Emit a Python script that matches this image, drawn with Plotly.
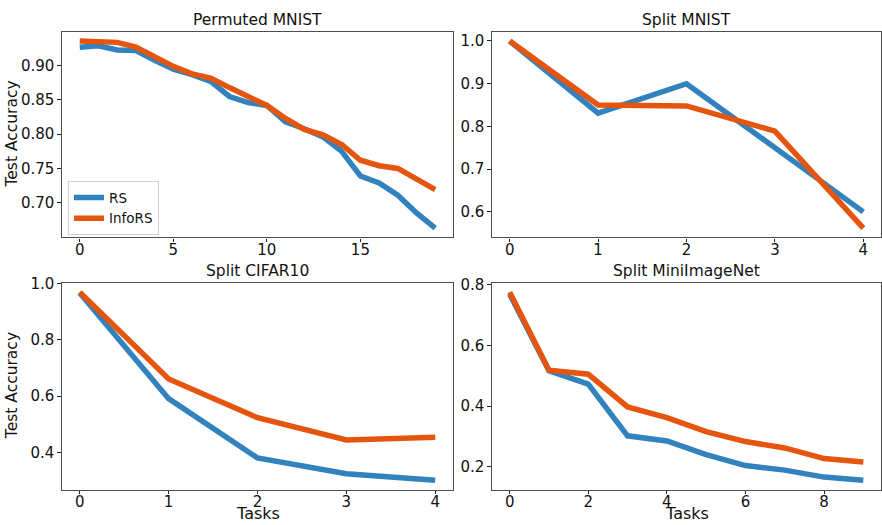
import plotly.graph_objects as go
from plotly.subplots import make_subplots

# ---- data ----
perm_x = list(range(20))
perm_rs = [0.927, 0.929, 0.923, 0.922, 0.908, 0.895, 0.887, 0.877, 0.855, 0.846,
           0.842, 0.818, 0.808, 0.796, 0.775, 0.739, 0.729, 0.711, 0.685, 0.663]
perm_info = [0.936, 0.936, 0.934, 0.927, 0.913, 0.899, 0.888, 0.882, 0.868, 0.855,
             0.842, 0.823, 0.807, 0.799, 0.785, 0.762, 0.754, 0.750, 0.735, 0.719]

smnist_x = list(range(5))
smnist_rs = [1.0, 0.831, 0.900, 0.750, 0.600]
smnist_info = [1.0, 0.850, 0.848, 0.789, 0.562]

cifar_x = list(range(5))
cifar_rs = [0.967, 0.591, 0.380, 0.324, 0.301]
cifar_info = [0.970, 0.661, 0.523, 0.444, 0.454]

mini_x = list(range(10))
mini_rs = [0.768, 0.516, 0.472, 0.302, 0.285, 0.240, 0.204, 0.189, 0.166, 0.156]
mini_info = [0.775, 0.518, 0.505, 0.397, 0.362, 0.316, 0.283, 0.262, 0.227, 0.216]

titles = ["Permuted MNIST", "Split MNIST", "Split CIFAR10", "Split MiniImageNet"]
series_names = ["RS", "InfoRS"]
colors = ["#3182bd", "#e6550d"]

panels = [
    (perm_x, perm_rs, perm_info, 1, 1, [0, 5, 10, 15], [0.70, 0.75, 0.80, 0.85, 0.90], "%.2f"),
    (smnist_x, smnist_rs, smnist_info, 1, 2, [0, 1, 2, 3, 4], [0.6, 0.7, 0.8, 0.9, 1.0], "%.1f"),
    (cifar_x, cifar_rs, cifar_info, 2, 1, [0, 1, 2, 3, 4], [0.4, 0.6, 0.8, 1.0], "%.1f"),
    (mini_x, mini_rs, mini_info, 2, 2, [0, 2, 4, 6, 8], [0.2, 0.4, 0.6, 0.8], "%.1f"),
]

W, H = 882, 525
FONT = "DejaVu Sans"

fig = make_subplots(rows=2, cols=2)

xdom = [[62 / W, 453 / W], [492 / W, 881 / W]]
ydom = [[1 - 233 / H, 1 - 24 / H], [1 - 489 / H, 1 - 279 / H]]

for i, (xs, rs, info, r, c, xt, yt, fmt) in enumerate(panels):
    for k, ys in enumerate([rs, info]):
        fig.add_trace(go.Scatter(
            x=xs, y=ys, mode="lines", name=series_names[k],
            line=dict(color=colors[k], width=5.5),
            showlegend=(i == 0),
        ), row=r, col=c)
    allv = rs + info
    lo, hi = min(allv), max(allv)
    m = (hi - lo) * 0.05
    xm = (xs[-1] - xs[0]) * 0.05
    axis_common = dict(showline=True, mirror=True, linecolor="#4d4d4d", linewidth=1.2,
                       ticks="outside", ticklen=3.5, tickwidth=1, tickcolor="#222",
                       showgrid=False, zeroline=False,
                       tickfont=dict(family=FONT, size=15, color="#111"))
    fig.update_xaxes(range=[xs[0] - xm, xs[-1] + xm], tickvals=xt,
                     ticktext=[str(v) for v in xt], domain=xdom[c - 1],
                     ticklabelstandoff=-5,
                     row=r, col=c, **axis_common)
    fig.update_yaxes(range=[lo - m, hi + m], tickvals=yt,
                     ticktext=[fmt % v for v in yt], domain=ydom[r - 1],
                     row=r, col=c, **axis_common)
    # subplot title
    xc = (xdom[c - 1][0] + xdom[c - 1][1]) / 2
    fig.add_annotation(text=titles[i], x=xc, y=ydom[r - 1][1], xref="paper", yref="paper",
                       xanchor="center", yanchor="bottom", yshift=1, showarrow=False,
                       font=dict(family=FONT, size=15.5, color="#111"))

# axis labels
for r in [1, 2]:
    yc = (ydom[r - 1][0] + ydom[r - 1][1]) / 2
    fig.add_annotation(text="Test Accuracy", x=12 / W, y=yc, xref="paper", yref="paper",
                       xanchor="center", yanchor="middle", textangle=-90, showarrow=False,
                       font=dict(family=FONT, size=15.5, color="#111"))
for c in [1, 2]:
    xc = (xdom[c - 1][0] + xdom[c - 1][1]) / 2
    fig.add_annotation(text="Tasks", x=xc, y=0, xref="paper", yref="paper",
                       xanchor="center", yanchor="bottom", showarrow=False,
                       font=dict(family=FONT, size=16, color="#111"))

fig.update_layout(
    width=W, height=H,
    margin=dict(l=0, r=0, t=0, b=0),
    paper_bgcolor="white", plot_bgcolor="white",
    font=dict(family=FONT, color="#111"),
    legend=dict(x=68 / W, y=1 - 176 / H, xanchor="left", yanchor="top",
                bgcolor="rgba(255,255,255,0.8)", bordercolor="#d0d0d0", borderwidth=1,
                font=dict(family=FONT, size=13.5, color="#111"),
                tracegroupgap=0, itemwidth=30),
)

fig.write_html("out.html")
